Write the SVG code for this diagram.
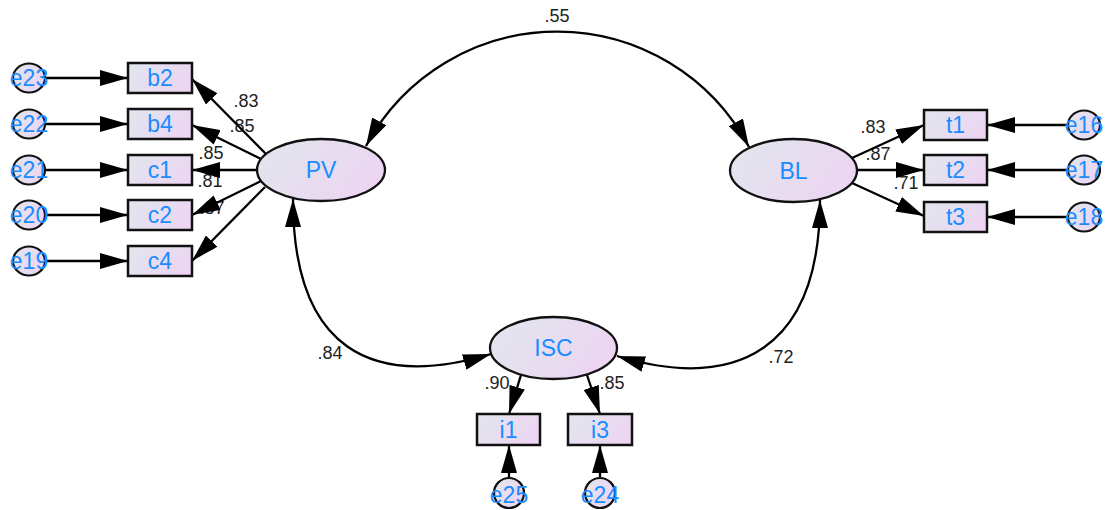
<svg xmlns="http://www.w3.org/2000/svg" width="1105" height="510" viewBox="0 0 1105 510">
<style>
.box{fill:url(#g);stroke:#111;stroke-width:2.5}
.lat{fill:url(#g);stroke:#111;stroke-width:2.3}
.err{fill:url(#g);stroke:#111;stroke-width:2.2}
.nt{font-family:"Liberation Sans",Arial,sans-serif;font-size:23px;fill:#1a8cff;text-anchor:middle}
.lb{font-family:"Liberation Sans",Arial,sans-serif;font-size:18px;fill:#222;text-anchor:middle}
.c{fill:none;stroke:#000;stroke-width:2.3;marker-end:url(#ah)}
.cv{fill:none;stroke:#000;stroke-width:2.3;marker-end:url(#ah);marker-start:url(#ahs)}
</style>
<defs>
<linearGradient id="g" x1="0" y1="0.3" x2="1" y2="0.7">
<stop offset="0" stop-color="#e2e5ee"/>
<stop offset="1" stop-color="#edd4f2"/>
</linearGradient>
<marker id="ah" viewBox="0 0 28 16" refX="28" refY="8" markerWidth="28" markerHeight="16" markerUnits="userSpaceOnUse" orient="auto">
<path d="M0,0 L28,8 L0,16 Z" fill="#000"/>
</marker>
<marker id="ahs" viewBox="0 0 28 16" refX="28" refY="8" markerWidth="28" markerHeight="16" markerUnits="userSpaceOnUse" orient="auto-start-reverse">
<path d="M0,0 L28,8 L0,16 Z" fill="#000"/>
</marker>
</defs>
<rect width="1105" height="510" fill="#fff"/>
<g id="labels">
<text class="lb" x="557" y="22">.55</text>
<text class="lb" x="246" y="107">.83</text>
<text class="lb" x="242" y="132">.85</text>
<text class="lb" x="211" y="159">.85</text>
<text class="lb" x="210" y="187">.81</text>
<text class="lb" x="212" y="214">.87</text>
<text class="lb" x="873" y="133">.83</text>
<text class="lb" x="878" y="160">.87</text>
<text class="lb" x="906" y="189">.71</text>
<text class="lb" x="330" y="359">.84</text>
<text class="lb" x="781" y="363">.72</text>
<text class="lb" x="497" y="389">.90</text>
<text class="lb" x="612" y="389">.85</text>
</g>
<g id="connectors">
<path class="cv" d="M366,146 A217,217 0 0 1 749,147"/>
<path class="cv" d="M293,199 C293,349 371,390 491,354"/>
<path class="cv" d="M820,200 C820,350 737,392 617,356"/>
<path class="c" d="M266,154 L192,79"/>
<path class="c" d="M261,159 L192,125"/>
<path class="c" d="M257,170 L192,170"/>
<path class="c" d="M261,181 L192,215"/>
<path class="c" d="M265,187 L192,261"/>
<path class="c" d="M852,158 L924,125"/>
<path class="c" d="M857,170 L924,170"/>
<path class="c" d="M852,183 L924,216"/>
<path class="c" d="M521,375 L509,414"/>
<path class="c" d="M587,375 L600,414"/>
<path class="c" d="M45,78 L128,78"/>
<path class="c" d="M45,124 L128,124"/>
<path class="c" d="M45,170 L128,170"/>
<path class="c" d="M45,215 L128,215"/>
<path class="c" d="M45,261 L128,261"/>
<path class="c" d="M1068,125 L987,125"/>
<path class="c" d="M1068,170 L987,170"/>
<path class="c" d="M1068,217 L987,217"/>
<path class="c" d="M509,478 L509,445"/>
<path class="c" d="M600,478 L600,445"/>
</g>
<g id="PV"><ellipse class="lat" cx="321" cy="170" rx="64" ry="31"/><text class="nt" x="321" y="178">PV</text></g>
<g id="BL"><ellipse class="lat" cx="793.5" cy="170.5" rx="63.5" ry="31.5"/><text class="nt" x="793.5" y="178.5">BL</text></g>
<g id="ISC"><ellipse class="lat" cx="553.5" cy="348" rx="63.5" ry="31"/><text class="nt" x="553.5" y="356">ISC</text></g>
<g id="b2"><rect class="box" x="128" y="63" width="64" height="30"/><text class="nt" x="160" y="86">b2</text></g>
<g id="b4"><rect class="box" x="128" y="109" width="64" height="30"/><text class="nt" x="160" y="132">b4</text></g>
<g id="c1"><rect class="box" x="128" y="155" width="64" height="30"/><text class="nt" x="160" y="178">c1</text></g>
<g id="c2"><rect class="box" x="128" y="200" width="64" height="30"/><text class="nt" x="160" y="223">c2</text></g>
<g id="c4"><rect class="box" x="128" y="246" width="64" height="30"/><text class="nt" x="160" y="269">c4</text></g>
<g id="t1"><rect class="box" x="924" y="110" width="63" height="30"/><text class="nt" x="955.5" y="133">t1</text></g>
<g id="t2"><rect class="box" x="924" y="155" width="63" height="30"/><text class="nt" x="955.5" y="178">t2</text></g>
<g id="t3"><rect class="box" x="924" y="202" width="63" height="30"/><text class="nt" x="955.5" y="225">t3</text></g>
<g id="i1"><rect class="box" x="477" y="414" width="63" height="31"/><text class="nt" x="508.5" y="437.5">i1</text></g>
<g id="i3"><rect class="box" x="568" y="414" width="64" height="31"/><text class="nt" x="600" y="437.5">i3</text></g>
<g id="e23"><ellipse class="err" cx="29" cy="78" rx="16" ry="14.5"/><text class="nt" x="29" y="86">e23</text></g>
<g id="e22"><ellipse class="err" cx="29" cy="124" rx="16" ry="14.5"/><text class="nt" x="29" y="132">e22</text></g>
<g id="e21"><ellipse class="err" cx="29" cy="170" rx="16" ry="14.5"/><text class="nt" x="29" y="178">e21</text></g>
<g id="e20"><ellipse class="err" cx="29" cy="215" rx="16" ry="14.5"/><text class="nt" x="29" y="223">e20</text></g>
<g id="e19"><ellipse class="err" cx="29" cy="261" rx="16" ry="14.5"/><text class="nt" x="29" y="269">e19</text></g>
<g id="e16"><ellipse class="err" cx="1084" cy="125" rx="16" ry="14.5"/><text class="nt" x="1084" y="133">e16</text></g>
<g id="e17"><ellipse class="err" cx="1084" cy="170" rx="16" ry="14.5"/><text class="nt" x="1084" y="178">e17</text></g>
<g id="e18"><ellipse class="err" cx="1084" cy="217" rx="16" ry="14.5"/><text class="nt" x="1084" y="225">e18</text></g>
<g id="e25"><ellipse class="err" cx="509" cy="493" rx="15" ry="15"/><text class="nt" x="509" y="503">e25</text></g>
<g id="e24"><ellipse class="err" cx="600" cy="493" rx="15" ry="15"/><text class="nt" x="600" y="503">e24</text></g>
</svg>
